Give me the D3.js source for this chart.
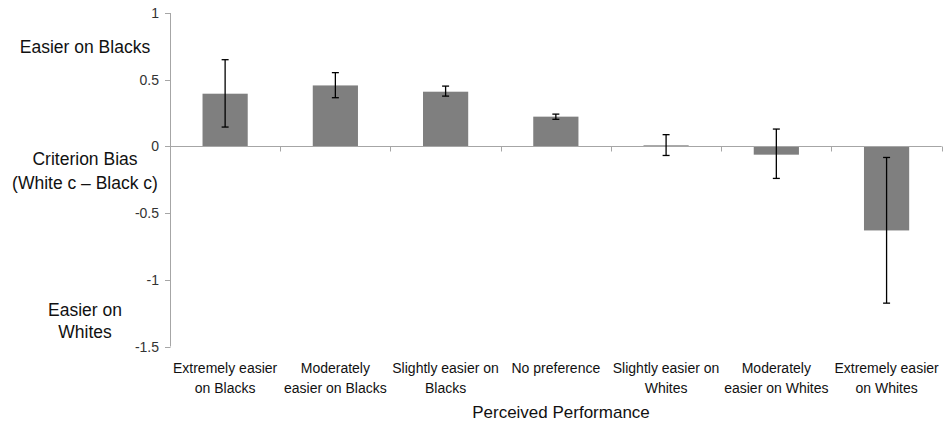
<!DOCTYPE html>
<html>
<head>
<meta charset="utf-8">
<script src="https://cdn.jsdelivr.net/npm/d3@7"></script>
<style>
  body { margin: 0; background: #fff; }
  svg { display: block; }
</style>
</head>
<body>
<svg id="chart" width="944" height="428"></svg>
<script>
// data
var categories = [
  ["Extremely easier", "on Blacks"],
  ["Moderately", "easier on Blacks"],
  ["Slightly easier on", "Blacks"],
  ["No preference"],
  ["Slightly easier on", "Whites"],
  ["Moderately", "easier on Whites"],
  ["Extremely easier", "on Whites"]
];
var values   = [0.395, 0.457, 0.41, 0.223, 0.008, -0.062, -0.63];
var errHigh  = [0.65, 0.553, 0.452, 0.242, 0.088, 0.13, -0.083];
var errLow   = [0.145, 0.365, 0.377, 0.203, -0.068, -0.24, -1.175];
var yTicks   = [1, 0.5, 0, -0.5, -1, -1.5];
var yTickLabels = ["1", "0.5", "0", "-0.5", "-1", "-1.5"];

var svg = d3.select('#chart');

var x = d3.scaleBand()
  .domain(d3.range(categories.length))
  .range([170, 941.7])
  .paddingInner(0.59)
  .paddingOuter(0.295);

var y = d3.scaleLinear()
  .domain([-1.5, 1])
  .range([346.5, 13]);

var axisColor = '#a6a6a6';

// bars
svg.append('g').selectAll('rect')
  .data(values)
  .enter().append('rect')
  .attr('x', function(d, i) { return x(i); })
  .attr('y', function(d) { return y(Math.max(0, d)); })
  .attr('width', x.bandwidth())
  .attr('height', function(d) { return Math.max(1.5, Math.abs(y(d) - y(0))); })
  .attr('fill', '#7f7f7f');

// y axis
svg.append('line')
  .attr('x1', 170.5).attr('x2', 170.5)
  .attr('y1', y(1)).attr('y2', y(-1.5))
  .attr('stroke', axisColor);

var yt = svg.append('g');
yTicks.forEach(function(t, i) {
  yt.append('line')
    .attr('x1', 165).attr('x2', 170.5)
    .attr('y1', Math.round(y(t)) + 0.5).attr('y2', Math.round(y(t)) + 0.5)
    .attr('stroke', axisColor);
  yt.append('text')
    .attr('x', 159)
    .attr('y', y(t) + 5)
    .attr('text-anchor', 'end')
    .attr('font-family', 'Liberation Sans, Arial, sans-serif')
    .attr('font-size', 14)
    .attr('fill', '#333')
    .text(yTickLabels[i]);
});

// zero line with category ticks
var zeroY = Math.round(y(0)) + 0.5;
svg.append('line')
  .attr('x1', 170).attr('x2', 941.7)
  .attr('y1', zeroY).attr('y2', zeroY)
  .attr('stroke', axisColor);

var step = x.step();
for (var k = 1; k <= categories.length; k++) {
  var tx = Math.round(170 + step * k) + 0.5;
  svg.append('line')
    .attr('x1', tx).attr('x2', tx)
    .attr('y1', zeroY).attr('y2', zeroY + 5)
    .attr('stroke', axisColor);
}

// error bars
var eb = svg.append('g').attr('stroke', '#000').attr('stroke-width', 1.3);
values.forEach(function(v, i) {
  var cx = x(i) + x.bandwidth() / 2;
  eb.append('line')
    .attr('x1', cx).attr('x2', cx)
    .attr('y1', y(errHigh[i])).attr('y2', y(errLow[i]));
  [errHigh[i], errLow[i]].forEach(function(e) {
    eb.append('line')
      .attr('x1', cx - 3.5).attr('x2', cx + 3.5)
      .attr('y1', y(e)).attr('y2', y(e));
  });
});

// category labels
var catFont = 'Liberation Sans Narrow, Arial Narrow, sans-serif';
categories.forEach(function(lines, i) {
  var cx = x(i) + x.bandwidth() / 2;
  var t = svg.append('text')
    .attr('text-anchor', 'middle')
    .attr('font-family', catFont)
    .attr('font-size', 14)
    .attr('fill', '#111');
  lines.forEach(function(l, j) {
    t.append('tspan').attr('x', cx).attr('y', 373 + j * 20).text(l);
  });
});

// axis title
svg.append('text')
  .attr('x', 561).attr('y', 418)
  .attr('text-anchor', 'middle')
  .attr('font-family', catFont)
  .attr('font-size', 17)
  .attr('fill', '#111')
  .text('Perceived Performance');

// y side labels
var sideLabels = [
  { text: 'Easier on Blacks', y: 53 },
  { text: 'Criterion Bias', y: 165 },
  { text: '(White c \u2013 Black c)', y: 189 },
  { text: 'Easier on', y: 316 },
  { text: 'Whites', y: 338 }
];
sideLabels.forEach(function(s) {
  svg.append('text')
    .attr('x', 85).attr('y', s.y)
    .attr('text-anchor', 'middle')
    .attr('font-family', 'Liberation Sans, Arial, sans-serif')
    .attr('font-size', 17.5)
    .attr('fill', '#111')
    .text(s.text);
});
</script>
</body>
</html>
